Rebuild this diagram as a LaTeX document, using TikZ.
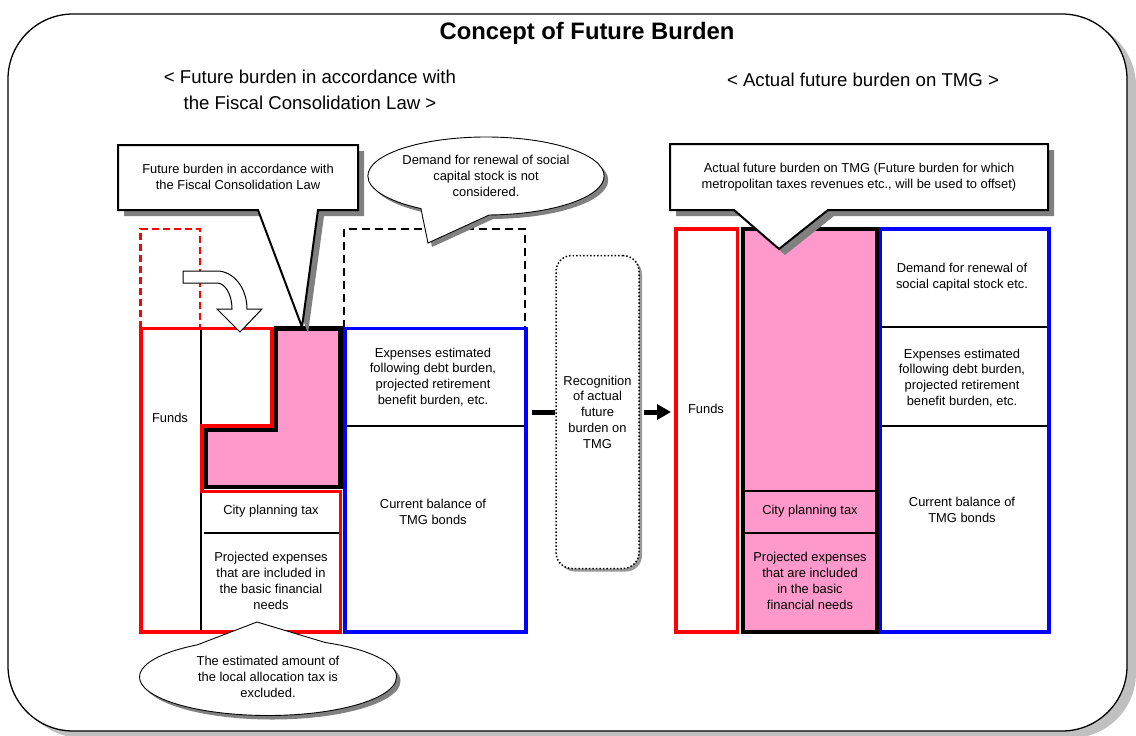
\documentclass[tikz,border=0pt]{standalone}
\usepackage{fontspec}
\setmainfont{Liberation Sans}
\usetikzlibrary{shapes.callouts,shadows,arrows.meta}
\definecolor{pinkfill}{HTML}{FF99CC}
\definecolor{fshadow}{HTML}{C0C0C0}
\definecolor{cshadow}{HTML}{808080}
\begin{document}
\begin{tikzpicture}[x=1pt,y=-1pt,
  txt/.style={align=center,inner sep=0pt,font=\fontsize{12.9}{15.8}\selectfont},
  thinline/.style={line width=1.2pt},
  redline/.style={draw=red,line width=3.5pt},
  blueline/.style={draw=blue,line width=3.8pt},
  blackline/.style={draw=black,line width=4.5pt},
  ecall/.style={ellipse callout,draw,fill=white,line width=0.9pt,txt,
    drop shadow={shadow xshift=4pt,shadow yshift=-4pt,fill=cshadow,opacity=1}},
  recogbox/.style={draw,fill=white,dotted,line width=1.5pt,rounded corners=16pt,
    minimum width=83pt,minimum height=313pt,txt,
    drop shadow={shadow xshift=3pt,shadow yshift=-3pt,fill=cshadow!80,opacity=1}},
  bigarrow/.style={line width=5pt}
]
\useasboundingbox (0,0) rectangle (1136,736);
% frame
\fill[fshadow,rounded corners=65pt] (17,21) rectangle (1136,738);
\draw[line width=1.3pt,fill=white,rounded corners=65pt] (8,14) rectangle (1127,731);

% ---------- left stack ----------
\draw[red,line width=2.2pt,dash pattern=on 7pt off 4pt] (140.5,328) -- (140.5,229) -- (200,229) -- (200,328);
\draw[line width=2.5pt,dash pattern=on 8pt off 5pt] (344,328) -- (344,229) -- (525,229) -- (525,328);
\draw[thinline] (201,329) -- (201,631);
\draw[thinline] (203.75,533) -- (338.75,533);
\draw[redline] (141,328.5) -- (272,328.5) -- (272,426) -- (202,426) -- (202,491.5) -- (340.5,491.5) -- (340.5,632) -- (141,632) -- cycle;
\filldraw[fill=pinkfill,blackline] (276,328.5) -- (340.5,328.5) -- (340.5,487) -- (206,487) -- (206,430) -- (276,430) -- cycle;
\draw[blueline] (345,328.5) rectangle (526,632);
\draw[thinline] (347,426) -- (524,426);

% curved white arrow
\filldraw[fill=white,line width=1pt] (183,271) -- (217,271)
  arc[start angle=-90,end angle=0,x radius=30,y radius=38]
  -- (262,309) -- (240,332) -- (217,309) -- (232,309)
  arc[start angle=0,end angle=-90,x radius=15,y radius=26]
  -- (183,283) -- cycle;

% ---------- right stack ----------
\draw[red,line width=3.2pt] (676,229) rectangle (737.5,632);
\fill[pinkfill] (743,229) rectangle (877,632);
\draw[blueline] (880.5,229) rectangle (1048.7,632);
\draw[blackline] (743,229) rectangle (877,632);
\draw[thinline] (745,491) -- (875,491);
\draw[thinline] (745,533) -- (875,533);
\draw[thinline] (882,327) -- (1047,327);
\draw[thinline] (882,426) -- (1047,426);

% ---------- middle ----------
\node[recogbox] (recog) at (597.5,412) {Recognition\\of actual\\future\\burden on\\TMG};
\coordinate (a1) at (532,412);
\coordinate (a2) at (671,412);
\draw[bigarrow] (a1) -- (recog.west);
\draw[bigarrow,-{Triangle[length=14pt,width=15pt]}] ([xshift=4pt]recog.east) -- (a2);

% ---------- callouts ----------
\fill[cshadow] (124,151) -- (364,151) -- (364,216) -- (324,216) -- (308,333) -- (264,216) -- (124,216) -- cycle;
\filldraw[fill=white,line width=2pt] (118,145) -- (358,145) -- (358,210) -- (318,210) -- (302,327) -- (258,210) -- (118,210) -- cycle;
\node[txt] (cl) at (238,177) {Future burden in accordance with\\the Fiscal Consolidation Law};

\fill[cshadow] (676,150) -- (1054,150) -- (1054,216) -- (834,216) -- (785,255) -- (740,216) -- (676,216) -- cycle;
\filldraw[fill=white,line width=2pt] (670,144) -- (1048,144) -- (1048,210) -- (828,210) -- (779,249) -- (734,210) -- (670,210) -- cycle;
\node[txt] (cr) at (859,177) {Actual future burden on TMG (Future burden for which\\metropolitan taxes revenues etc., will be used to offset)};

\node[ecall,minimum width=232pt,minimum height=78pt,callout pointer arc=35,
  callout absolute pointer={(428,243)}] (etop) at (486,176)
  {Demand for renewal of social\\capital stock is not\\considered.};
\node[ecall,minimum width=257pt,minimum height=77pt,callout pointer arc=60,
  callout absolute pointer={(257,622)}] (ebot) at (268,677)
  {The estimated amount of\\the local allocation tax is\\excluded.};

% ---------- texts ----------
\node[font=\bfseries\fontsize{23.8}{28}\selectfont,inner sep=0pt] (title) at (587,33) {Concept of Future Burden};
\node[align=center,inner sep=0pt,font=\fontsize{18.6}{26}\selectfont] (subl) at (310,90) {< Future burden in accordance with\\the Fiscal Consolidation Law >};
\node[inner sep=0pt,font=\fontsize{18.6}{26}\selectfont] (subr) at (863,80) {< Actual future burden on TMG >};

\node[txt] (fundsl) at (170,418) {Funds};
\node[txt] (cityl) at (271,511) {City planning tax};
\node[txt] (projl) at (271,581) {Projected expenses\\that are included in\\the basic financial\\needs};
\node[txt] (expl) at (433,377) {Expenses estimated\\following debt burden,\\projected retirement\\benefit burden, etc.};
\node[txt] (curl) at (433,512) {Current balance of\\TMG bonds};

\node[txt] (fundsr) at (706,409) {Funds};
\node[txt] (cityr) at (810,511) {City planning tax};
\node[txt] (projr) at (810,581) {Projected expenses\\that are included\\in the basic\\financial needs};
\node[txt] (demr) at (962,277) {Demand for renewal of\\social capital stock etc.};
\node[txt] (expr) at (962,378) {Expenses estimated\\following debt burden,\\projected retirement\\benefit burden, etc.};
\node[txt] (curr) at (962,510) {Current balance of\\TMG bonds};
\end{tikzpicture}
\end{document}
